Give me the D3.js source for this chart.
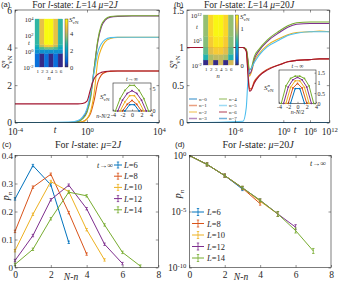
<!DOCTYPE html>
<html>
<head>
<meta charset="utf-8">
<script src="https://cdn.jsdelivr.net/npm/d3@7"></script>
<style>
body { margin: 0; background: #fff; }
text { white-space: pre; font-family: "Liberation Serif", "DejaVu Serif", serif; }
</style>
</head>
<body>
<svg id="fig" width="341" height="282"></svg>
<script>
// ---------- data ----------
// matlab default line colours
var matlab = [ "#0072BD", "#D95319", "#EDB120", "#7E2F8E", "#77AC30", "#4DBEEE", "#A2142F" ];
var nColors = [ matlab[0], matlab[1], matlab[2], matlab[3], matlab[4], matlab[5], matlab[6], matlab[0] ];
var nNames = [ "n=0", "n=1", "n=2", "n=3", "n=4", "n=5", "n=6", "n=7" ];
var sizesL = [ 6, 8, 10, 12, 14 ];

// (a) S_vN^n vs log10 t, mu = 2J
var tA = [ -4, -1, -0.5, -0.25, 0, 0.2, 0.4, 0.6, 0.8, 1.0, 1.3, 1.7, 2.5, 4 ];
var sA0 = [ 0, 0, 0, 0, 0, 0, 0, 0, 0, 0, 0, 0, 0, 0 ];
var sA1 = [ 0, 0, 0.01, 0.05, 0.2, 0.5, 1.2, 2.15, 2.55, 2.68, 2.73, 2.75, 2.75, 2.75 ];
var sA2 = [ 0, 0, 0.02, 0.05, 0.2, 0.6, 1.6, 3.3, 3.95, 4.3, 4.48, 4.54, 4.55, 4.55 ];
var sA3 = [ 0, 0.01, 0.06, 0.25, 0.65, 1.45, 2.9, 4.3, 5.1, 5.45, 5.62, 5.66, 5.68, 5.68 ];
var sA4 = [ 0, 0.01, 0.05, 0.2, 0.55, 1.3, 2.9, 4.4, 5.2, 5.5, 5.65, 5.68, 5.69, 5.69 ];
var sA5 = [ 0, 0.03, 0.12, 0.3, 0.75, 1.6, 2.7, 3.75, 4.2, 4.42, 4.53, 4.55, 4.55, 4.55 ];
var sA6 = [ 1, 1, 1, 1.02, 1.15, 1.8, 2.35, 2.58, 2.68, 2.72, 2.75, 2.75, 2.75, 2.75 ];
var sA7 = [ 0, 0, 0, 0, 0, 0, 0, 0, 0, 0, 0, 0, 0, 0 ];

// (b) S_vN^n vs log10 t, mu = 20J
var tB = [ -12, -5, -4.6, -4.4, -4.2, -4.0, -3.6, -3.0, -2, -0.5, 1, 3, 6, 9, 12 ];
var sB0 = [ 0, 0, 0, 0, 0, 0, 0, 0, 0, 0, 0, 0, 0, 0, 0 ];
var sB1 = [ 1, 1, 0.96, 0.7, 0.45, 0.45, 0.55, 0.63, 0.71, 0.77, 0.81, 0.83, 0.84, 0.85, 0.85 ];
var sB2 = [ 1, 1, 0.97, 0.8, 0.62, 0.66, 0.82, 0.92, 1.03, 1.12, 1.17, 1.2, 1.21, 1.22, 1.21 ];
var sB3 = [ 1, 1, 0.97, 0.82, 0.65, 0.68, 0.85, 0.96, 1.08, 1.2, 1.27, 1.31, 1.32, 1.32, 1.32 ];
var sB4 = [ 1, 1, 0.98, 0.85, 0.7, 0.72, 0.88, 0.98, 1.1, 1.22, 1.29, 1.33, 1.34, 1.34, 1.34 ];
var sB5 = [ 0, 0.02, 0.2, 0.55, 0.7, 0.72, 0.8, 0.9, 1.01, 1.1, 1.16, 1.19, 1.21, 1.21, 1.21 ];
var sB6 = [ 1, 1, 0.95, 0.65, 0.42, 0.43, 0.53, 0.62, 0.7, 0.77, 0.81, 0.83, 0.84, 0.85, 0.85 ];
var sB7 = [ 0, 0, 0, 0, 0, 0, 0, 0, 0, 0, 0, 0, 0, 0, 0 ];

// heatmap insets: band edges (log10 t) and values for n = 1..6
var heatBandsA = [ -2, -0.3, 0.2, 0.5, 0.8, 4 ];
var heatValsA = [
	[ 1, 0, 1, 0, 1, 0 ],
	[ 1.7, 1.7, 1.7, 1.7, 1.7, 1.7 ],
	[ 2.2, 3.0, 3.3, 3.3, 3.0, 2.2 ],
	[ 2.5, 4.0, 4.8, 4.8, 4.0, 2.5 ],
	[ 2.75, 4.55, 5.68, 5.68, 4.55, 2.75 ]
];
var heatBandsB = [ -2, -0.6, 1, 3, 6, 12 ];
var heatValsB = [
	[ 0, 1, 0, 1, 0, 1 ],
	[ 0.6, 0.9, 0.95, 0.95, 0.9, 0.6 ],
	[ 0.75, 1.05, 1.15, 1.15, 1.05, 0.75 ],
	[ 0.82, 1.15, 1.27, 1.27, 1.15, 0.82 ],
	[ 0.85, 1.21, 1.33, 1.33, 1.21, 0.85 ]
];

// t -> infinity arches, one per L
var archA = [
	[ 0, 1.4, 1.4, 0 ],
	[ 0, 1.5, 2.35, 1.5, 0 ],
	[ 0, 2.0, 3.4, 3.4, 2.0, 0 ],
	[ 0, 2.4, 3.9, 4.5, 3.9, 2.4, 0 ],
	[ 0, 2.75, 4.55, 5.68, 5.68, 4.55, 2.75, 0 ]
];
var archB = [
	[ 0, 0.72, 0.72, 0 ],
	[ 0, 0.75, 0.97, 0.75, 0 ],
	[ 0, 0.78, 1.1, 1.1, 0.78, 0 ],
	[ 0, 0.8, 1.15, 1.27, 1.15, 0.8, 0 ],
	[ 0, 0.85, 1.22, 1.33, 1.33, 1.22, 0.85, 0 ]
];

// (c) p_n vs N-n, mu = 2J
var pC6 = [ 0.245, 0.364, 0.295, 0.09 ];
var pC8 = [ 0.129, 0.287, 0.333, 0.196, 0.048 ];
var pC10 = [ 0.06, 0.19, 0.307, 0.271, 0.135, 0.027 ];
var pC12 = [ 0.025, 0.114, 0.242, 0.294, 0.21, 0.083, 0.014 ];
var pC14 = [ 0.011, 0.065, 0.174, 0.269, 0.256, 0.152, 0.054, 0.005 ];

// (d) p_n vs N-n, mu = 20J
var pD6 = [ 1, 1.6e-1, 1.6e-2, 1.0e-3 ];
var pD8 = [ 1, 1.6e-1, 1.6e-2, 1.2e-3, 5e-5 ];
var pD10 = [ 1, 1.6e-1, 1.6e-2, 1.3e-3, 8e-5, 6e-6 ];
var pD12 = [ 1, 1.6e-1, 1.6e-2, 1.3e-3, 1e-4, 6e-6, 4e-7 ];
var pD14 = [ 1, 1.6e-1, 1.6e-2, 1.3e-3, 1e-4, 6e-6, 2e-7, 3e-9 ];

var parula = [ "#352A87", "#0363E1", "#1485D4", "#06A7C6", "#38B99E", "#92BF73", "#D9BA56", "#FCCE2E", "#F9FB0E" ];

// ---------- helpers ----------
var serif = '"Liberation Serif","DejaVu Serif",serif';
var sans = '"Liberation Sans",Arial,sans-serif';
var ink = "#262626";
var svg = d3.select( "#fig" );
svg.append( "rect" ).attr( "width", 341 ).attr( "height", 282 ).attr( "fill", "#fff" );

function txt( g, x, y, size, anchor ) {
	return g.append( "text" ).attr( "x", x ).attr( "y", y ).attr( "font-size", size )
		.style( "font-family", serif ).attr( "fill", ink ).attr( "text-anchor", anchor || "start" );
}

// parts: [ string, italic ]
function rich( t, parts ) {
	parts.forEach( function ( p ) {
		t.append( "tspan" ).attr( "font-style", p[ 1 ] ? "italic" : "normal" ).text( p[ 0 ] );
	} );
	return t;
}

function sLabel( t, fs ) {
	t.append( "tspan" ).attr( "font-style", "italic" ).text( "S" );
	t.append( "tspan" ).attr( "font-style", "italic" ).attr( "font-size", fs * 0.7 ).attr( "dy", -fs * 0.4 ).text( "n" );
	t.append( "tspan" ).attr( "font-size", fs * 0.7 ).attr( "dx", -fs * 0.35 ).attr( "dy", fs * 0.72 ).text( "vN" );
	return t;
}

function frame( g, x0, y0, x1, y1, fill ) {
	g.append( "rect" ).attr( "x", x0 ).attr( "y", y0 ).attr( "width", x1 - x0 ).attr( "height", y1 - y0 )
		.attr( "fill", fill || "none" ).attr( "stroke", ink ).attr( "stroke-width", 0.6 );
}

// plain number labels: 0, 0.5, 1, 1.5 ...
var plain = function ( d ) { return String( d ); };

function makeAxis( g, axis, tx, ty, fs ) {
	var a = g.append( "g" ).attr( "transform", "translate(" + tx + "," + ty + ")" ).call( axis );
	a.select( ".domain" ).remove();
	a.selectAll( ".tick line" ).attr( "stroke", ink ).attr( "stroke-width", 0.5 );
	a.selectAll( ".tick text" ).style( "font-family", serif ).attr( "font-size", fs ).attr( "fill", ink );
	return a;
}

// turn exponent ticks into 10^k labels
function powLabels( a, expOf ) {
	a.selectAll( ".tick text" ).each( function ( d ) {
		var t = d3.select( this ).text( null );
		t.append( "tspan" ).text( "10" );
		t.append( "tspan" ).attr( "dy", "-0.45em" ).attr( "font-size", "0.7em" ).text( expOf ? expOf( d ) : d );
	} );
}

function boxTicks( g, xs, ys, xt, yt, x0, y0, x1, y1 ) {
	makeAxis( g, d3.axisTop( xs ).tickValues( xt ).tickSize( -2.5 ).tickFormat( "" ), 0, y0, 1 );
	makeAxis( g, d3.axisRight( ys ).tickValues( yt ).tickSize( -2.5 ).tickFormat( "" ), x1, 0, 1 );
}

function clip( id, x0, y0, x1, y1 ) {
	svg.append( "clipPath" ).attr( "id", id ).append( "rect" )
		.attr( "x", x0 ).attr( "y", y0 ).attr( "width", x1 - x0 ).attr( "height", y1 - y0 );
}

function heatmap( g, xs, ys, bands, vals, vmax ) {
	var col = d3.scaleLinear().domain( parula.map( function ( c, i ) {
		return i / ( parula.length - 1 ) * vmax;
	} ) ).range( parula );
	vals.forEach( function ( row, b ) {
		row.forEach( function ( v, j ) {
			g.append( "rect" ).attr( "x", xs( j + 0.5 ) ).attr( "width", xs( j + 1.5 ) - xs( j + 0.5 ) )
				.attr( "y", ys( bands[ b + 1 ] ) ).attr( "height", ys( bands[ b ] ) - ys( bands[ b + 1 ] ) )
				.attr( "fill", col( v ) ).attr( "stroke", col( v ) ).attr( "stroke-width", 0.3 );
		} );
	} );
	return col;
}

function colorbar( g, id, x0, y0, x1, y1 ) {
	var grad = svg.append( "defs" ).append( "linearGradient" ).attr( "id", id )
		.attr( "x1", 0 ).attr( "y1", 1 ).attr( "x2", 0 ).attr( "y2", 0 );
	parula.forEach( function ( c, i ) {
		grad.append( "stop" ).attr( "offset", i / ( parula.length - 1 ) ).attr( "stop-color", c );
	} );
	g.append( "rect" ).attr( "x", x0 ).attr( "y", y0 ).attr( "width", x1 - x0 ).attr( "height", y1 - y0 )
		.attr( "fill", "url(#" + id + ")" ).attr( "stroke", ink ).attr( "stroke-width", 0.4 );
}

function archInset( g, x0, y0, x1, y1, ymax, arches, yt, fs ) {
	frame( g, x0, y0, x1, y1, "#fff" );
	var xs = d3.scaleLinear().domain( [ -4, 4 ] ).range( [ x0, x1 ] ),
		ys = d3.scaleLinear().domain( [ 0, ymax ] ).range( [ y1, y0 ] );
	arches.forEach( function ( a, k ) {
		var N = a.length - 1,
			pts = a.map( function ( v, i ) { return [ i - N / 2, v ]; } );
		g.append( "path" ).datum( pts ).attr( "fill", "none" ).attr( "stroke", matlab[ k ] ).attr( "stroke-width", 1 )
			.attr( "d", d3.line().x( function ( d ) { return xs( d[ 0 ] ); } ).y( function ( d ) { return ys( d[ 1 ] ); } ) );
		g.selectAll( null ).data( pts ).enter().append( "circle" )
			.attr( "cx", function ( d ) { return xs( d[ 0 ] ); } ).attr( "cy", function ( d ) { return ys( d[ 1 ] ); } )
			.attr( "r", 0.9 ).attr( "fill", matlab[ k ] );
	} );
	makeAxis( g, d3.axisBottom( xs ).tickValues( [ -4, -2, 0, 2, 4 ] ).tickFormat( plain ).tickSize( -1.5 ).tickPadding( 1.5 ), 0, y1, fs );
	makeAxis( g, d3.axisRight( ys ).tickValues( yt ).tickFormat( plain ).tickSize( -1.5 ).tickPadding( 1.5 ), x1, 0, fs );
	return xs;
}

function errMark( g, x, y, c, h ) {
	g.append( "line" ).attr( "x1", x ).attr( "x2", x ).attr( "y1", y - h ).attr( "y2", y + h ).attr( "stroke", c ).attr( "stroke-width", 0.8 );
	g.append( "line" ).attr( "x1", x - 1.2 ).attr( "x2", x + 1.2 ).attr( "y1", y - h ).attr( "y2", y - h ).attr( "stroke", c ).attr( "stroke-width", 0.8 );
	g.append( "line" ).attr( "x1", x - 1.2 ).attr( "x2", x + 1.2 ).attr( "y1", y + h ).attr( "y2", y + h ).attr( "stroke", c ).attr( "stroke-width", 0.8 );
}

function timeLines( g, xs, ys, ts, series, clipId, sw ) {
	var line = d3.line().x( function ( d ) { return xs( d[ 0 ] ); } ).y( function ( d ) { return ys( d[ 1 ] ); } )
		.curve( d3.curveMonotoneX );
	series.forEach( function ( s, i ) {
		g.append( "path" ).datum( ts.map( function ( t, k ) { return [ t, s[ k ] ]; } ) )
			.attr( "clip-path", "url(#" + clipId + ")" ).attr( "fill", "none" )
			.attr( "stroke", nColors[ i ] ).attr( "stroke-width", sw ).attr( "d", line );
	} );
}

/* ================= PANEL (a) ================= */
var ga = svg.append( "g" );
var axA = d3.scaleLinear().domain( [ -4, 4 ] ).range( [ 15, 159 ] ),
	ayA = d3.scaleLinear().domain( [ 0, 6 ] ).range( [ 122.7, 10 ] );
clip( "clipA", 15, 10, 159, 122.7 );
timeLines( ga, axA, ayA, tA, [ sA0, sA1, sA2, sA3, sA4, sA5, sA6, sA7 ], "clipA", 1.1 );
frame( ga, 15, 10, 159, 122.7 );
powLabels( makeAxis( ga, d3.axisBottom( axA ).tickValues( [ -4, 0, 4 ] ).tickSize( -2.5 ).tickPadding( 6 ), 0, 122.7, 9.5 ) );
makeAxis( ga, d3.axisLeft( ayA ).tickValues( [ 0, 2, 4, 6 ] ).tickFormat( plain ).tickSize( -2.5 ).tickPadding( 3 ), 15, 0, 9.5 );
boxTicks( ga, axA, ayA, [ -4, 0, 4 ], [ 0, 2, 4, 6 ], 15, 10, 159, 122.7 );
txt( ga, 55, 133, 9.5, "middle" ).attr( "font-style", "italic" ).text( "t" );
sLabel( txt( ga, 0, 0, 9.5, "middle" ).attr( "transform", "translate(9,62) rotate(-90)" ), 9.5 );
txt( ga, 1, 6.5, 7.5 ).style( "font-family", sans ).text( "(a)" );
rich( txt( ga, 75, 8, 9.5, "middle" ), [ [ "For ", 0 ], [ "l", 1 ], [ "-state: ", 0 ], [ "L", 1 ], [ "=14 ", 0 ], [ "μ", 1 ], [ "=2", 0 ], [ "J", 1 ] ] );

// heatmap inset (a)
var hxA = d3.scaleLinear().domain( [ 0.5, 6.5 ] ).range( [ 35, 62.7 ] ),
	hyA = d3.scaleLinear().domain( [ -2, 4 ] ).range( [ 67, 19 ] );
heatmap( ga, hxA, hyA, heatBandsA, heatValsA, 5.7 );
colorbar( ga, "cbA", 65, 19, 68, 67 );
var cbA = d3.scaleLinear().domain( [ 0, 5.7 ] ).range( [ 67, 19 ] );
makeAxis( ga, d3.axisRight( cbA ).tickValues( [ 0, 2, 4 ] ).tickFormat( plain ).tickSize( 0 ).tickPadding( 2 ), 68, 0, 6.5 );
sLabel( txt( ga, 69, 22, 7 ), 7 );
powLabels( makeAxis( ga, d3.axisLeft( hyA ).tickValues( [ -2, 0, 2, 4 ] ).tickSize( 0 ).tickPadding( 1.5 ), 35, 0, 6.5 ) );
txt( ga, 29, 45, 6.5, "middle" ).attr( "font-style", "italic" ).text( "t" );
makeAxis( ga, d3.axisBottom( hxA ).tickValues( [ 1, 2, 3, 4, 5, 6 ] ).tickFormat( plain ).tickSize( 0 ).tickPadding( 2 ), 0, 67, 5 );
txt( ga, 49, 80, 6.5, "middle" ).attr( "font-style", "italic" ).text( "n" );

// t -> inf inset (a)
archInset( ga, 113, 83, 151, 111, 6.2, archA, [ 0, 5 ], 6 );
rich( txt( ga, 132, 81, 6, "middle" ), [ [ "t", 1 ], [ "→∞", 0 ] ] );
sLabel( txt( ga, 100, 99, 7 ), 7 );
rich( txt( ga, 110, 117.5, 6, "end" ), [ [ "n", 1 ], [ "-", 0 ], [ "N", 1 ], [ "/2", 0 ] ] );

/* ================= PANEL (b) ================= */
var gb = svg.append( "g" );
var axB = d3.scaleLinear().domain( [ -12, -6, 0, 6, 12 ] ).range( [ 187, 235, 283.3, 310, 329.3 ] ),
	ayB = d3.scaleLinear().domain( [ 0, 1.5 ] ).range( [ 122.7, 10 ] );
clip( "clipB", 187, 10, 329.3, 122.7 );
timeLines( gb, axB, ayB, tB, [ sB0, sB1, sB2, sB3, sB4, sB5, sB6, sB7 ], "clipB", 1.1 );
frame( gb, 187, 10, 329.3, 122.7 );
powLabels( makeAxis( gb, d3.axisBottom( axB ).tickValues( [ -6, 0, 6, 12 ] ).tickSize( -2.5 ).tickPadding( 6 ), 0, 122.7, 9.5 ) );
makeAxis( gb, d3.axisLeft( ayB ).tickValues( [ 0, 0.5, 1, 1.5 ] ).tickFormat( plain ).tickSize( -2.5 ).tickPadding( 3 ), 187, 0, 9.5 );
boxTicks( gb, axB, ayB, [ -6, 0, 6, 12 ], [ 0, 0.5, 1, 1.5 ], 187, 10, 329.3, 122.7 );
txt( gb, 295, 133, 9.5, "middle" ).attr( "font-style", "italic" ).text( "t" );
sLabel( txt( gb, 0, 0, 9.5, "middle" ).attr( "transform", "translate(177,62) rotate(-90)" ), 9.5 );
txt( gb, 174, 6.5, 7.5 ).style( "font-family", sans ).text( "(b)" );
rich( txt( gb, 249, 8, 9.5, "middle" ), [ [ "For ", 0 ], [ "l", 1 ], [ "-state: ", 0 ], [ "L", 1 ], [ "=14 ", 0 ], [ "μ", 1 ], [ "=20", 0 ], [ "J", 1 ] ] );

// heatmap inset (b)
var hxB = d3.scaleLinear().domain( [ 0.5, 6.5 ] ).range( [ 203.3, 233.3 ] ),
	hyB = d3.scaleLinear().domain( [ -2, 12 ] ).range( [ 65, 15 ] );
heatmap( gb, hxB, hyB, heatBandsB, heatValsB, 1.35 );
colorbar( gb, "cbB", 235.5, 15, 238.5, 65 );
var cbB = d3.scaleLinear().domain( [ 0, 1.35 ] ).range( [ 65, 15 ] );
makeAxis( gb, d3.axisRight( cbB ).tickValues( [ 0, 1 ] ).tickFormat( plain ).tickSize( 0 ).tickPadding( 2 ), 238.5, 0, 6.5 );
sLabel( txt( gb, 240, 19, 7 ), 7 );
powLabels( makeAxis( gb, d3.axisLeft( hyB ).tickValues( [ -2, 5, 12 ] ).tickSize( 0 ).tickPadding( 1.5 ), 203.3, 0, 6.5 ) );
txt( gb, 197, 29, 6.5, "middle" ).attr( "font-style", "italic" ).text( "t" );
makeAxis( gb, d3.axisBottom( hxB ).tickValues( [ 1, 2, 3, 4, 5, 6 ] ).tickFormat( plain ).tickSize( 0 ).tickPadding( 2 ), 0, 65, 5 );
txt( gb, 218, 78, 6.5, "middle" ).attr( "font-style", "italic" ).text( "n" );

// t -> inf inset (b)
archInset( gb, 279, 70, 316, 103.3, 1.63, archB, [ 0, 0.5, 1, 1.5 ], 6 );
rich( txt( gb, 297.5, 68, 6, "middle" ), [ [ "t", 1 ], [ "→∞", 0 ] ] );
sLabel( txt( gb, 264, 90, 7 ), 7 );
rich( txt( gb, 297.5, 114, 6, "middle" ), [ [ "n", 1 ], [ "-", 0 ], [ "N", 1 ], [ "/2", 0 ] ] );

// legend (b)
nNames.forEach( function ( name, i ) {
	var lx = i < 4 ? 189 : 219,
		ly = 99 + ( i % 4 ) * 6.5;
	gb.append( "line" ).attr( "x1", lx ).attr( "x2", lx + 8 ).attr( "y1", ly ).attr( "y2", ly )
		.attr( "stroke", nColors[ i ] ).attr( "stroke-width", 1.5 ).attr( "opacity", 0.55 );
	txt( gb, lx + 10, ly + 1.8, 5 ).text( name );
} );

/* ================= PANEL (c) ================= */
var gc = svg.append( "g" );
var axC = d3.scaleLinear().domain( [ 0, 8 ] ).range( [ 15, 158.3 ] ),
	ayC = d3.scaleLinear().domain( [ 0, 0.4 ] ).range( [ 267.5, 155.5 ] );
[ pC6, pC8, pC10, pC12, pC14 ].forEach( function ( p, k ) {
	gc.append( "path" ).datum( p ).attr( "fill", "none" ).attr( "stroke", matlab[ k ] ).attr( "stroke-width", 1 )
		.attr( "d", d3.line().x( function ( d, i ) { return axC( i ); } ).y( function ( d ) { return ayC( d ); } ) );
	p.forEach( function ( v, i ) { errMark( gc, axC( i ), ayC( v ), matlab[ k ], 1.2 ); } );
} );
frame( gc, 15, 155.5, 158.3, 267.5 );
makeAxis( gc, d3.axisBottom( axC ).tickValues( [ 0, 2, 4, 6, 8 ] ).tickFormat( plain ).tickSize( -2.5 ).tickPadding( 4 ), 0, 267.5, 9.5 );
makeAxis( gc, d3.axisLeft( ayC ).tickValues( [ 0, 0.1, 0.2, 0.3, 0.4 ] ).tickFormat( plain ).tickSize( -2.5 ).tickPadding( 2 ), 15, 0, 9 );
boxTicks( gc, axC, ayC, [ 0, 2, 4, 6, 8 ], [ 0, 0.1, 0.2, 0.3, 0.4 ], 15, 155.5, 158.3, 267.5 );
rich( txt( gc, 71, 280, 9.5, "middle" ), [ [ "N", 1 ], [ "-", 0 ], [ "n", 1 ] ] );
var pl = txt( gc, 0, 0, 10, "middle" ).attr( "transform", "translate(9,196) rotate(-90)" );
pl.append( "tspan" ).attr( "font-style", "italic" ).text( "p" );
pl.append( "tspan" ).attr( "font-style", "italic" ).attr( "font-size", 7 ).attr( "dy", 2.5 ).text( "n" );
txt( gc, 2, 147, 8 ).style( "font-family", sans ).text( "(c)" );
rich( txt( gc, 88, 148, 10, "middle" ), [ [ "For ", 0 ], [ "l", 1 ], [ "-state: ", 0 ], [ "μ", 1 ], [ "=2", 0 ], [ "J", 1 ] ] );

// legend (c)
rich( txt( gc, 105, 167.5, 8, "middle" ), [ [ "t", 1 ], [ "→∞", 0 ] ] );
sizesL.forEach( function ( L, k ) {
	var ly = 165 + k * 11.2;
	gc.append( "line" ).attr( "x1", 114 ).attr( "x2", 122 ).attr( "y1", ly ).attr( "y2", ly ).attr( "stroke", matlab[ k ] ).attr( "stroke-width", 1 );
	errMark( gc, 118, ly, matlab[ k ], 3 );
	rich( txt( gc, 124, ly + 3, 8.5 ), [ [ "L", 1 ], [ "=" + L, 0 ] ] );
} );

/* ================= PANEL (d) ================= */
var gd = svg.append( "g" );
var axD = d3.scaleLinear().domain( [ 0, 8 ] ).range( [ 189.3, 331 ] ),
	ayD = d3.scaleLog().domain( [ 1e-10, 1 ] ).range( [ 267.5, 155.5 ] );
[ pD6, pD8, pD10, pD12, pD14 ].forEach( function ( p, k ) {
	gd.append( "path" ).datum( p ).attr( "fill", "none" ).attr( "stroke", matlab[ k ] ).attr( "stroke-width", 1 )
		.attr( "d", d3.line().x( function ( d, i ) { return axD( i ); } ).y( function ( d ) { return ayD( d ); } ) );
	p.forEach( function ( v, i ) { if ( i > 0 ) errMark( gd, axD( i ), ayD( v ), matlab[ k ], i > 4 ? 2.5 : 1.5 ); } );
} );
frame( gd, 189.3, 155.5, 331, 267.5 );
makeAxis( gd, d3.axisBottom( axD ).tickValues( [ 0, 2, 4, 6, 8 ] ).tickFormat( plain ).tickSize( -2.5 ).tickPadding( 4 ), 0, 267.5, 9.5 );
powLabels( makeAxis( gd, d3.axisLeft( ayD ).tickValues( [ 1e-10, 1e-5, 1 ] ).tickSize( -2.5 ).tickPadding( 3 ), 189.3, 0, 9.5 ),
	function ( d ) { return Math.round( Math.log10( d ) ); } );
boxTicks( gd, axD, ayD, [ 0, 2, 4, 6, 8 ], [ 1e-10, 1e-5, 1 ], 189.3, 155.5, 331, 267.5 );
rich( txt( gd, 241, 280, 9.5, "middle" ), [ [ "N", 1 ], [ "-", 0 ], [ "n", 1 ] ] );
var pl2 = txt( gd, 0, 0, 10, "middle" ).attr( "transform", "translate(181,194) rotate(-90)" );
pl2.append( "tspan" ).attr( "font-style", "italic" ).text( "p" );
pl2.append( "tspan" ).attr( "font-style", "italic" ).attr( "font-size", 7 ).attr( "dy", 2.5 ).text( "n" );
txt( gd, 175, 147, 8 ).style( "font-family", sans ).text( "(d)" );
rich( txt( gd, 258, 148, 10, "middle" ), [ [ "For ", 0 ], [ "l", 1 ], [ "-state: ", 0 ], [ "μ", 1 ], [ "=20", 0 ], [ "J", 1 ] ] );
rich( txt( gd, 318, 166, 8, "middle" ), [ [ "t", 1 ], [ "→∞", 0 ] ] );

// legend (d)
sizesL.forEach( function ( L, k ) {
	var ly = 212 + k * 11.5;
	gd.append( "line" ).attr( "x1", 192 ).attr( "x2", 204 ).attr( "y1", ly ).attr( "y2", ly ).attr( "stroke", matlab[ k ] ).attr( "stroke-width", 1 );
	errMark( gd, 198, ly, matlab[ k ], 3.5 );
	rich( txt( gd, 207, ly + 3, 8.5 ), [ [ "L", 1 ], [ "=" + L, 0 ] ] );
} );
</script>
</body>
</html>
